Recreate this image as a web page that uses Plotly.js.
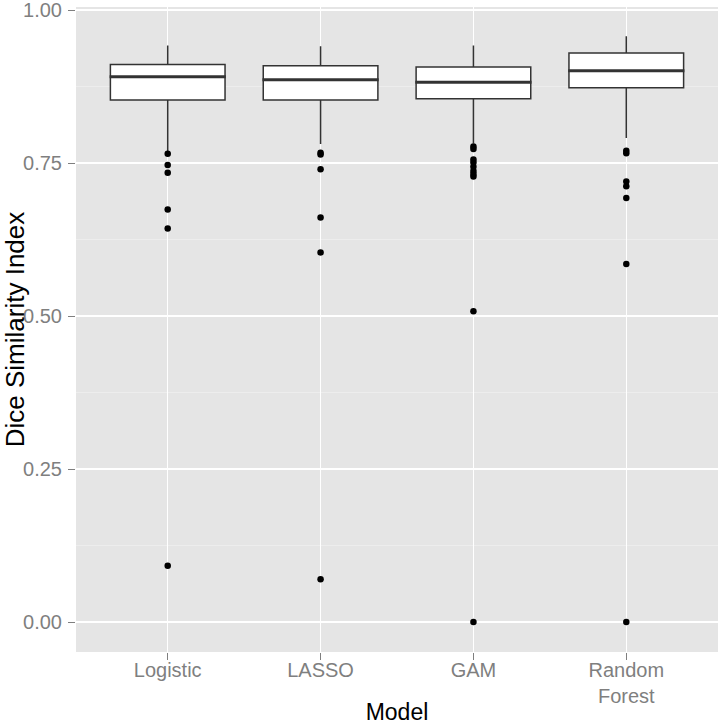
<!DOCTYPE html>
<html>
<head>
<meta charset="utf-8">
<script src="https://cdn.plot.ly/plotly-3.0.1.min.js"></script>
<style>
  body { margin: 0; background: #fff; }
  #chart { width: 720px; height: 725px; }
</style>
</head>
<body>
<div id="chart"></div>
<script>
// box summary per model
let models = ["Logistic", "LASSO", "GAM", "Random<br>Forest"];
let q1 = [0.853, 0.853, 0.855, 0.873];
let medians = [0.891, 0.886, 0.882, 0.901];
let q3 = [0.911, 0.909, 0.907, 0.930];
let lowerFence = [0.768, 0.781, 0.782, 0.791];
let upperFence = [0.942, 0.941, 0.942, 0.957];

// outliers
let logisticOut = [0.765, 0.747, 0.734, 0.674, 0.643, 0.092];
let lassoOut = [0.767, 0.764, 0.740, 0.661, 0.604, 0.070];
let gamOut = [0.777, 0.773, 0.756, 0.751, 0.744, 0.737, 0.732, 0.728, 0.508, 0.0];
let rfOut = [0.770, 0.766, 0.720, 0.712, 0.693, 0.585, 0.0];

let outX = [];
let outY = [];
[logisticOut, lassoOut, gamOut, rfOut].forEach((arr, i) => {
    arr.forEach(v => { outX.push(models[i]); outY.push(v); });
});

let boxTrace = {
    type: "box",
    x: models,
    q1: q1,
    median: medians,
    q3: q3,
    lowerfence: lowerFence,
    upperfence: upperFence,
    width: 0.75,
    whiskerwidth: 0,
    fillcolor: "#FFFFFF",
    line: {color: "#333333", width: 1.5},
    boxpoints: false,
    hoverinfo: "skip"
};

// thicker median bar like ggplot
let medianTrace = {
    type: "scatter",
    mode: "markers",
    x: models,
    y: medians,
    marker: {symbol: "line-ew-open", size: 83, color: "#333333", line: {color: "#333333", width: 3}},
    hoverinfo: "skip"
};

let outTrace = {
    type: "scatter",
    mode: "markers",
    x: outX,
    y: outY,
    marker: {color: "#000000", size: 6.5},
    hoverinfo: "skip"
};

let layout = {
    width: 720,
    height: 725,
    margin: {l: 76, r: 2, t: 7, b: 73},
    paper_bgcolor: "#FFFFFF",
    plot_bgcolor: "#E5E5E5",
    showlegend: false,
    font: {family: "Liberation Sans, Arial, sans-serif"},
    xaxis: {
        type: "category",
        range: [-0.6, 3.6],
        showgrid: true,
        gridcolor: "#FFFFFF",
        gridwidth: 1.5,
        zeroline: false,
        showline: false,
        ticks: "outside",
        ticklen: 7,
        tickwidth: 1,
        tickcolor: "#7F7F7F",
        tickfont: {size: 20, color: "#7F7F7F"},
        ticklabelstandoff: -7,
        automargin: false,
        title: {text: "Model", font: {size: 23, color: "#000000"}, standoff: 2}
    },
    yaxis: {
        range: [-0.049, 1.005],
        tickvals: [0, 0.25, 0.5, 0.75, 1],
        ticktext: ["0.00", "0.25", "0.50", "0.75", "1.00"],
        showgrid: true,
        gridcolor: "#FFFFFF",
        gridwidth: 1.5,
        minor: {dtick: 0.125, tick0: 0, showgrid: true, gridcolor: "#F2F2F2", gridwidth: 0.6},
        zeroline: false,
        showline: false,
        ticks: "outside",
        ticklen: 7,
        tickwidth: 1,
        tickcolor: "#7F7F7F",
        tickfont: {size: 20, color: "#7F7F7F"},
        ticklabelstandoff: 2,
        ticklabeloverflow: "allow",
        automargin: false,
        title: {text: "Dice Similarity Index", font: {size: 26, color: "#000000"}, standoff: 4}
    }
};

Plotly.newPlot("chart", [boxTrace, medianTrace, outTrace], layout, {staticPlot: true});
</script>
</body>
</html>
